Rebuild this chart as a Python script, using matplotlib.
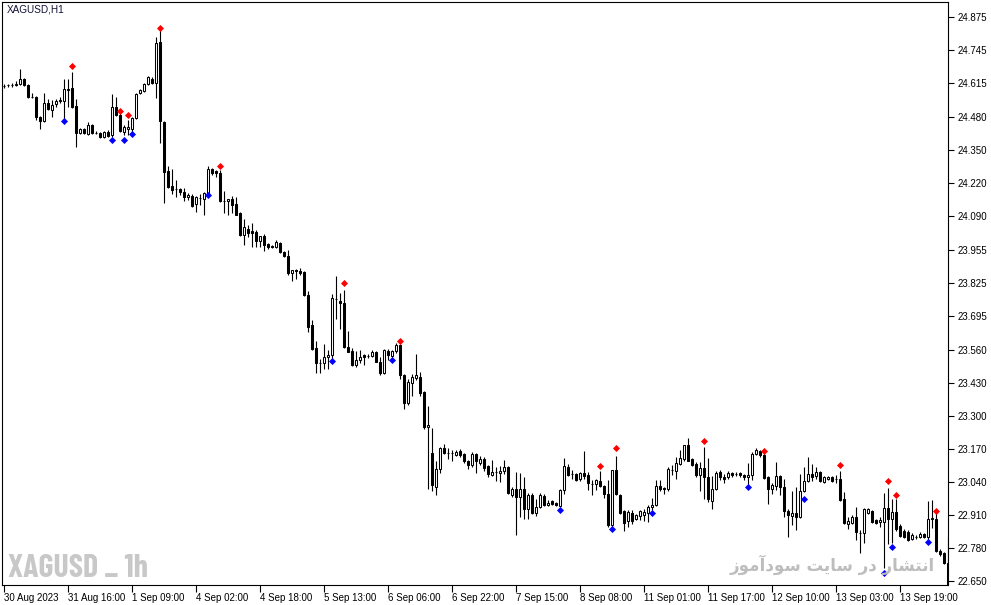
import matplotlib
matplotlib.use("Agg")
import matplotlib.pyplot as plt
import numpy as np

# ---------------- data ----------------
opens = [
24.603,24.607,24.607,24.607,24.611,24.630,24.607,24.559,24.559,24.481,
24.465,24.536,24.508,24.532,24.544,24.544,24.591,24.595,24.524,24.418,
24.433,24.414,24.449,24.418,24.418,24.402,24.422,24.410,24.520,24.488,
24.422,24.433,24.433,24.477,24.575,24.583,24.611,24.630,24.615,24.776,
24.461,24.268,24.209,24.197,24.197,24.185,24.165,24.169,24.137,24.161,
24.157,24.181,24.276,24.268,24.260,24.149,24.149,24.157,24.137,24.102,
24.015,24.038,24.031,24.027,23.991,24.011,23.979,23.972,23.968,23.983,
23.948,23.932,23.865,23.877,23.873,23.869,23.778,23.660,23.569,23.510,
23.510,23.534,23.542,23.762,23.755,23.747,23.573,23.557,23.502,23.522,
23.542,23.538,23.538,23.553,23.514,23.471,23.557,23.538,23.557,23.581,
23.463,23.352,23.431,23.451,23.455,23.396,23.257,23.155,23.021,23.092,
23.175,23.155,23.155,23.147,23.163,23.151,23.123,23.107,23.151,23.115,
23.131,23.104,23.068,23.080,23.076,23.084,23.100,22.989,23.013,22.981,
23.013,22.934,22.989,22.918,22.942,22.985,22.950,22.966,22.958,22.946,
23.009,23.100,23.072,23.072,23.052,23.076,23.068,23.033,23.033,23.044,
23.025,22.993,22.871,23.088,22.989,22.926,22.887,22.918,22.895,22.906,
22.910,22.918,22.942,22.950,23.025,23.017,23.013,23.088,23.084,23.111,
23.131,23.186,23.131,23.111,23.068,23.096,23.060,22.966,23.013,23.080,
23.060,23.060,23.076,23.072,23.076,23.068,23.060,23.068,23.151,23.163,
23.147,23.060,23.013,23.025,23.064,23.021,22.926,22.906,22.918,22.902,
23.005,23.044,23.072,23.064,23.080,23.040,23.052,23.060,23.052,23.052,
22.973,22.875,22.879,22.902,22.839,22.839,22.918,22.926,22.891,22.883,
22.883,22.938,22.895,22.922,22.867,22.847,22.843,22.816,22.824,22.824,
22.836,22.824,22.895,22.895,22.769,22.761,22.721]

highs = [
24.611,24.611,24.615,24.622,24.670,24.634,24.611,24.575,24.563,24.485,
24.575,24.551,24.548,24.551,24.559,24.630,24.630,24.658,24.551,24.437,
24.437,24.461,24.453,24.426,24.422,24.426,24.430,24.571,24.559,24.496,
24.449,24.469,24.481,24.575,24.591,24.615,24.642,24.638,24.796,24.824,
24.465,24.288,24.276,24.232,24.201,24.201,24.181,24.177,24.169,24.177,
24.185,24.288,24.280,24.272,24.272,24.189,24.157,24.169,24.165,24.106,
24.078,24.054,24.062,24.035,24.011,24.019,23.983,23.975,23.995,23.987,
23.952,23.956,23.877,23.881,23.885,23.873,23.794,23.680,23.597,23.526,
23.585,23.561,23.782,23.853,23.786,23.798,23.636,23.569,23.557,23.561,
23.546,23.546,23.561,23.557,23.534,23.565,23.565,23.561,23.589,23.585,
23.467,23.447,23.467,23.546,23.475,23.400,23.340,23.253,23.123,23.179,
23.190,23.175,23.167,23.167,23.171,23.155,23.127,23.159,23.155,23.143,
23.139,23.107,23.127,23.100,23.104,23.127,23.104,23.021,23.080,23.076,
23.060,22.997,22.997,22.973,22.997,22.993,22.970,22.970,22.962,23.013,
23.135,23.111,23.088,23.076,23.080,23.163,23.080,23.048,23.052,23.084,
23.029,23.048,23.088,23.143,22.993,22.930,22.930,22.930,22.914,22.930,
22.934,22.950,22.977,23.048,23.048,23.021,23.100,23.107,23.139,23.167,
23.186,23.214,23.135,23.119,23.119,23.179,23.135,23.064,23.084,23.088,
23.072,23.084,23.080,23.080,23.080,23.072,23.115,23.159,23.175,23.167,
23.155,23.064,23.036,23.119,23.068,23.052,22.934,23.005,23.021,23.072,
23.100,23.139,23.111,23.100,23.084,23.064,23.064,23.064,23.068,23.084,
23.001,22.902,22.910,22.942,22.851,22.938,22.938,22.930,22.895,22.902,
22.997,23.017,22.973,22.973,22.875,22.855,22.851,22.839,22.832,22.843,
22.839,22.966,22.970,22.926,22.777,22.765,22.824]

lows = [
24.595,24.599,24.599,24.603,24.607,24.603,24.555,24.555,24.469,24.433,
24.461,24.508,24.481,24.520,24.536,24.469,24.520,24.516,24.363,24.414,
24.414,24.410,24.414,24.414,24.398,24.398,24.402,24.402,24.485,24.422,
24.410,24.410,24.422,24.473,24.571,24.579,24.607,24.611,24.555,24.378,
24.141,24.201,24.177,24.165,24.173,24.149,24.153,24.125,24.106,24.133,
24.094,24.177,24.252,24.244,24.145,24.102,24.094,24.102,24.094,24.011,
23.975,24.007,23.968,23.968,23.968,23.952,23.960,23.964,23.964,23.944,
23.928,23.857,23.833,23.841,23.857,23.774,23.632,23.561,23.471,23.471,
23.486,23.486,23.522,23.684,23.644,23.569,23.553,23.498,23.494,23.510,
23.502,23.530,23.534,23.514,23.463,23.467,23.522,23.530,23.549,23.447,
23.328,23.344,23.380,23.443,23.380,23.249,23.013,23.005,22.989,23.076,
23.151,23.131,23.123,23.143,23.139,23.115,23.092,23.100,23.076,23.107,
23.084,23.060,23.064,23.044,23.040,23.072,22.993,22.981,22.832,22.902,
22.895,22.895,22.914,22.906,22.938,22.946,22.946,22.950,22.946,22.942,
22.993,23.064,23.052,23.044,23.044,23.052,23.009,22.989,23.009,23.021,
22.977,22.863,22.863,22.989,22.914,22.847,22.863,22.875,22.891,22.891,
22.887,22.883,22.930,22.946,23.005,22.993,23.005,23.068,23.052,23.107,
23.123,23.123,23.104,23.060,23.005,22.973,22.962,22.934,23.009,23.048,
23.036,23.052,23.060,23.064,23.060,23.048,23.029,23.048,23.147,23.139,
23.052,22.954,22.993,23.009,22.989,22.902,22.824,22.871,22.851,22.899,
23.001,23.040,23.044,23.052,23.040,23.036,23.048,23.040,23.036,22.966,
22.875,22.855,22.875,22.812,22.761,22.800,22.914,22.879,22.875,22.863,
22.702,22.796,22.800,22.847,22.824,22.820,22.808,22.812,22.816,22.820,
22.820,22.812,22.859,22.765,22.749,22.717,22.615]

closes = [
24.603,24.607,24.607,24.611,24.630,24.607,24.559,24.559,24.481,24.465,
24.536,24.512,24.528,24.544,24.548,24.591,24.587,24.520,24.418,24.433,
24.418,24.449,24.418,24.418,24.402,24.422,24.406,24.520,24.488,24.426,
24.441,24.441,24.477,24.571,24.587,24.611,24.638,24.615,24.772,24.465,
24.264,24.205,24.193,24.197,24.185,24.165,24.173,24.129,24.165,24.161,
24.181,24.276,24.260,24.260,24.149,24.149,24.157,24.133,24.094,24.015,
24.046,24.023,24.023,23.991,24.011,23.975,23.968,23.968,23.987,23.948,
23.932,23.865,23.877,23.873,23.865,23.778,23.652,23.565,23.510,23.510,
23.534,23.542,23.766,23.762,23.747,23.573,23.553,23.502,23.522,23.534,
23.534,23.538,23.553,23.514,23.471,23.561,23.542,23.557,23.581,23.463,
23.352,23.435,23.455,23.463,23.392,23.257,23.265,23.029,23.092,23.175,
23.155,23.155,23.155,23.159,23.147,23.123,23.107,23.151,23.123,23.131,
23.096,23.072,23.080,23.080,23.084,23.100,22.997,23.013,22.981,23.013,
22.934,22.989,22.918,22.942,22.989,22.950,22.958,22.954,22.950,23.009,
23.104,23.068,23.072,23.048,23.076,23.064,23.036,23.033,23.048,23.025,
22.993,22.871,23.088,22.993,22.918,22.879,22.922,22.887,22.910,22.926,
22.922,22.942,22.950,23.025,23.013,23.013,23.092,23.088,23.115,23.135,
23.186,23.123,23.107,23.068,23.096,23.060,22.973,23.013,23.076,23.060,
23.052,23.076,23.068,23.072,23.068,23.060,23.068,23.151,23.167,23.147,
23.056,23.013,23.029,23.064,23.021,22.926,22.910,22.918,22.902,23.005,
23.044,23.072,23.060,23.080,23.044,23.060,23.060,23.044,23.052,22.970,
22.879,22.887,22.902,22.843,22.839,22.934,22.934,22.883,22.879,22.891,
22.938,22.895,22.922,22.855,22.828,22.824,22.812,22.832,22.824,22.836,
22.824,22.895,22.899,22.769,22.757,22.721,22.623]

# fractal-style signal markers (bar index, price)
red_idx = [17, 29, 31, 39, 54, 85, 99, 149, 153, 175, 190, 209, 221, 223, 233]
red_val = [24.682, 24.504, 24.488, 24.832, 24.288, 23.825, 23.597, 23.104,
           23.175, 23.202, 23.163, 23.107, 23.044, 22.989, 22.926]
blue_idx = [15, 27, 30, 32, 51, 82, 97, 139, 152, 162, 186, 200, 220, 222, 231]
blue_val = [24.465, 24.390, 24.390, 24.414, 24.173, 23.518, 23.522, 22.930,
            22.855, 22.918, 23.021, 22.973, 22.682, 22.784, 22.804]

ytick_vals = [24.875, 24.745, 24.615, 24.480, 24.350, 24.220, 24.090, 23.955,
              23.825, 23.695, 23.560, 23.430, 23.300, 23.170, 23.040, 22.910,
              22.780, 22.650]
xtick_idx = [0, 16, 32, 48, 64, 80, 96, 112, 128, 144, 160, 176, 192, 208, 224]
xtick_labels = ["30 Aug 2023", "31 Aug 16:00", "1 Sep 09:00", "4 Sep 02:00",
                "4 Sep 18:00", "5 Sep 13:00", "6 Sep 06:00", "6 Sep 22:00",
                "7 Sep 15:00", "8 Sep 08:00", "11 Sep 01:00", "11 Sep 17:00",
                "12 Sep 10:00", "13 Sep 03:00", "13 Sep 19:00"]

title_text = "XAGUSD,H1"
watermark_left = "XAGUSD _ 1h"
watermark_right = "انتشار در سایت سودآموز"

assert len(opens) == len(highs) == len(lows) == len(closes)

# ---------------- simple Arabic shaping for display ----------------
FORMS = {
    '\u0627': ('\uFE8D', '\uFE8E'),
    '\u0622': ('\uFE81', '\uFE82'),
    '\u062F': ('\uFEA9', '\uFEAA'),
    '\u0631': ('\uFEAD', '\uFEAE'),
    '\u0632': ('\uFEAF', '\uFEB0'),
    '\u0648': ('\uFEED', '\uFEEE'),
    '\u0646': ('\uFEE5', '\uFEE6', '\uFEE7', '\uFEE8'),
    '\u062A': ('\uFE95', '\uFE96', '\uFE97', '\uFE98'),
    '\u0634': ('\uFEB5', '\uFEB6', '\uFEB7', '\uFEB8'),
    '\u0633': ('\uFEB1', '\uFEB2', '\uFEB3', '\uFEB4'),
    '\u0645': ('\uFEE1', '\uFEE2', '\uFEE3', '\uFEE4'),
    '\u06CC': ('\uFBFC', '\uFBFD', '\uFEF3', '\uFEF4'),
}

def shape_rtl(text):
    out = []
    n = len(text)
    for i, ch in enumerate(text):
        f = FORMS.get(ch)
        if f is None:
            out.append(ch)
            continue
        prev = text[i - 1] if i > 0 else ''
        nxt = text[i + 1] if i < n - 1 else ''
        pj = prev in FORMS and len(FORMS[prev]) == 4
        nj = nxt in FORMS
        if len(f) == 4:
            if pj and nj:
                out.append(f[3])
            elif pj:
                out.append(f[1])
            elif nj:
                out.append(f[2])
            else:
                out.append(f[0])
        else:
            out.append(f[1] if pj else f[0])
    return ''.join(reversed(out))

# ---------------- figure ----------------
W, H = 991, 605
fig = plt.figure(figsize=(W / 100, H / 100), dpi=100)
fig.patch.set_facecolor('white')
L, R, T, B = 2, 948, 2, 585
ax = fig.add_axes([L / W, (H - B) / H, (R - L) / W, (B - T) / H])
ax.set_facecolor('white')

o = np.array(opens); h = np.array(highs); lo = np.array(lows); c = np.array(closes)
x = np.arange(len(o))

ax.vlines(x, lo, h, color='black', linewidth=0.8, zorder=2)
up = c >= o
dn = ~up
ax.bar(x[up], (c - o)[up], bottom=o[up], width=0.5, facecolor='white',
       edgecolor='black', linewidth=0.75, zorder=3)
ax.bar(x[dn], (c - o)[dn], bottom=o[dn], width=0.5, facecolor='black',
       edgecolor='black', linewidth=0.75, zorder=3)

ax.scatter(red_idx, red_val, marker='D', s=13, color='#ff0000', linewidths=0, zorder=4)
ax.scatter(blue_idx, blue_val, marker='D', s=13, color='#0000ff', linewidths=0, zorder=4)

px_per_bar = 4.0
x0_px = 3.5
ax.set_xlim((L - x0_px) / px_per_bar, (R - x0_px) / px_per_bar)
p_top = 24.942 - T / 253.5
p_bot = 24.942 - B / 253.5
ax.set_ylim(p_bot, p_top)

for s in ax.spines.values():
    s.set_color('black')
    s.set_linewidth(0.8)

ax.yaxis.tick_right()
ax.set_yticks(ytick_vals)
ax.set_yticklabels([f"{v:.3f}" for v in ytick_vals])
ax.tick_params(axis='y', direction='out', length=4, width=0.8, pad=3,
               labelsize=7, colors='black')
ax.set_xticks(xtick_idx)
ax.set_xticklabels(xtick_labels, ha='left')
ax.tick_params(axis='x', direction='out', length=5, width=0.8, pad=1,
               labelsize=7, colors='black')
for lab in ax.get_xticklabels() + ax.get_yticklabels():
    lab.set_fontfamily(['Liberation Sans', 'DejaVu Sans'])

fig.text(7 / W, 1 - 10 / H, title_text, fontsize=7.2, color='#111133',
         ha='left', va='center', family=['Liberation Sans', 'DejaVu Sans'])

fig.text(8 / W, 1 - 577 / H, watermark_left, fontsize=23, color='#c8c8c8',
         fontweight='bold', ha='left', va='baseline',
         family=['Barlow Condensed', 'Asap Condensed', 'DejaVu Sans'])

fig.text(935 / W, 1 - 565 / H, shape_rtl(watermark_right), fontsize=12,
         color='#bdbdbd', ha='right', va='center', fontweight='bold',
         family=['DejaVu Sans'])

fig.savefig('out.png', dpi=100, facecolor='white')
